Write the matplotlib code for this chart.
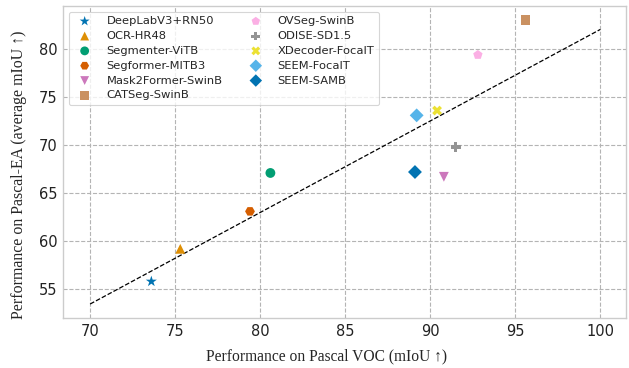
import matplotlib
matplotlib.use("Agg")
import matplotlib.pyplot as plt
import seaborn as sns

models = ["DeepLabV3+RN50", "OCR-HR48", "Segmenter-ViTB", "Segformer-MITB3",
          "Mask2Former-SwinB", "CATSeg-SwinB", "OVSeg-SwinB", "ODISE-SD1.5",
          "XDecoder-FocalT", "SEEM-FocalT", "SEEM-SAMB"]
voc = [73.6, 75.3, 80.6, 79.4, 90.8, 95.6, 92.8, 91.5, 90.4, 89.2, 89.1]
ea = [55.8, 59.2, 67.1, 63.1, 66.7, 83.0, 79.4, 69.8, 73.6, 73.1, 67.2]
markers = ["*", "^", "o", "H", "v", "s", "p", "P", "X", "D", "D"]
fit_x = [70, 100]
fit_y = [53.45, 82.05]

sns.set_theme(style="whitegrid")
plt.rcParams['font.family'] = ['DejaVu Sans']
colors = sns.color_palette("colorblind", 10)

fig = plt.figure(figsize=(6.29, 3.68), dpi=100)
ax = fig.add_axes([0.100, 0.136, 0.895, 0.848])

for i, (m, x, y, mk) in enumerate(zip(models, voc, ea, markers)):
    size = 70 if mk == "*" else 50
    ax.scatter([x], [y], marker=mk, s=size, color=colors[i % 10], label=m,
               edgecolors='none', zorder=3)

ax.plot(fit_x, fit_y, linestyle='--', color='black', lw=0.9, zorder=2)

ax.set_xlim(68.4, 101.5)
ax.set_ylim(52.0, 84.5)
ax.set_xticks([70, 75, 80, 85, 90, 95, 100])
ax.set_yticks([55, 60, 65, 70, 75, 80])
ax.tick_params(labelsize=10.5, length=0, pad=4, colors='#222222')
ax.grid(True, linestyle='--', color='#b4b4b4', lw=0.8)
for s in ax.spines.values():
    s.set_color('#cccccc')
    s.set_linewidth(1.0)

ax.set_xlabel("Performance on Pascal VOC (mIoU ↑)", family=['Liberation Serif', 'DejaVu Sans'],
              fontsize=11.2)
ax.xaxis.set_label_coords(0.469, -0.097)
ax.set_ylabel("Performance on Pascal-EA (average mIoU ↑)", family=['Liberation Serif', 'DejaVu Sans'],
              fontsize=11.4)
ax.yaxis.set_label_coords(-0.064, 0.46)

leg = ax.legend(ncol=2, loc='upper left', fontsize=8.25, frameon=True,
                borderaxespad=0.5, handletextpad=0.9, columnspacing=1.9,
                labelspacing=0.42, markerscale=0.9)
leg.get_frame().set_edgecolor('#cccccc')
leg.get_frame().set_linewidth(0.8)

fig.savefig("out.png", dpi=100)
